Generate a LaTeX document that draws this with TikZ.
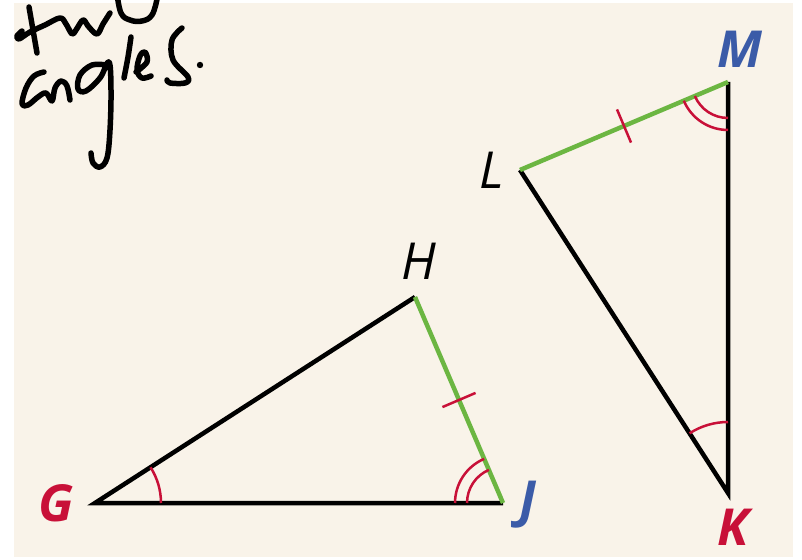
\documentclass[tikz,border=0pt]{standalone}
\usepackage{fontspec}
\setmainfont{Open Sans}
\usetikzlibrary{angles,calc}
\definecolor{paper}{RGB}{249,243,233}
\definecolor{markred}{RGB}{200,16,56}
\definecolor{labelblue}{RGB}{59,91,168}
\definecolor{sidegreen}{RGB}{108,182,66}

\begin{document}
\begin{tikzpicture}[
  x=1pt,
  y=1pt,
  side/.style={line width=4.5pt},
  equal side/.style={side, draw=sidegreen},
  tick mark/.style={draw=markred, line width=2.5pt},
  angle mark/.style={draw=markred, line width=2.5pt},
  point label/.style={
    font=\fontsize{51}{51}\selectfont\itshape,
    inner sep=0pt
  },
  bold label/.style={
    point label,
    font=\fontsize{51}{51}\selectfont\bfseries\itshape
  },
  ink/.style={line width=5.5pt, line cap=round, line join=round}
]
  \useasboundingbox (0,0) rectangle (802,559);
  \clip (0,0) rectangle (802,559);
  \fill[paper] (14,2) rectangle (793,556);

  % first triangle
  \coordinate (G) at (95,56);
  \coordinate (H) at (415,262);
  \coordinate (J) at (503,56);
  % second triangle
  \coordinate (L) at (520,389);
  \coordinate (M) at (728,477);
  \coordinate (K) at (728,66);

  \draw[side] (J) -- (G) -- (H);
  \draw[equal side] (H) -- (J);
  \draw[side] (L) -- (K) -- (M);
  \draw[equal side] (L) -- (M);

  \coordinate (midHJ) at ($(H)!0.5!(J)$);
  \coordinate (midLM) at ($(L)!0.5!(M)$);
  \draw[tick mark] ($(midHJ)!18pt!90:(J)$) -- ($(midHJ)!18pt!-90:(J)$);
  \draw[tick mark] ($(midLM)!18pt!90:(M)$) -- ($(midLM)!18pt!-90:(M)$);

  \pic[angle mark, angle radius=66pt] {angle = J--G--H};
  \pic[angle mark, angle radius=71pt] {angle = M--K--L};
  \foreach \r in {36,48} {
    \pic[angle mark, angle radius=\r pt] {angle = H--J--G};
    \pic[angle mark, angle radius=\r pt] {angle = L--M--K};
  }

  \node[bold label, text=markred] (labG) at (56,56) {G};
  \node[point label] (labH) at (419,298) {H};
  \node[bold label, text=labelblue] (labJ) at (528,54) {J};
  \node[point label] (labL) at (492,389) {L};
  \node[bold label, text=labelblue] (labM) at (740,510) {M};
  \node[bold label, text=markred] (labK) at (733,32) {K};

  % handwritten note
  \draw[ink] plot[smooth, tension=0.6] coordinates {(29,552) (33,529) (37,506)};
  \draw[ink] plot[smooth, tension=0.6] coordinates {
    (22,528) (17,523) (19,520) (30,527) (45,534) (60,541) (66,535) (72,525)
    (76,529) (83,539) (88,533) (97,525) (103,535) (110,546)};
  \draw[ink] plot[smooth, tension=0.7] coordinates {
    (117,566) (121,546) (130,539) (142,538) (152,544) (157,560)};
  \draw[ink] plot[smooth, tension=0.6] coordinates {
    (44,487) (34,483) (26,471) (22,455) (28,454) (38,462) (46,466) (52,458)
    (55,471) (61,478) (67,473) (70,459)};
  \draw[ink] plot[smooth, tension=0.6] coordinates {
    (106,494) (92,494) (80,484) (78,470) (86,468) (100,481) (109,497)
    (111,469) (110,429) (107,401) (100,392) (93,396) (91,406)};
  \draw[ink] plot[smooth, tension=0.6] coordinates {(124,481) (128,502) (131,522)};
  \draw[ink] plot[smooth, tension=0.6] coordinates {
    (136,487) (147,497) (145,507) (140,503) (137,489) (142,481) (151,483)};
  \draw[ink] plot[smooth, tension=0.6] coordinates {
    (182,531) (172,519) (173,499) (188,482) (185,476) (170,476) (167,479)};
  \fill (200,494) circle (3.2pt);
\end{tikzpicture}
\end{document}
